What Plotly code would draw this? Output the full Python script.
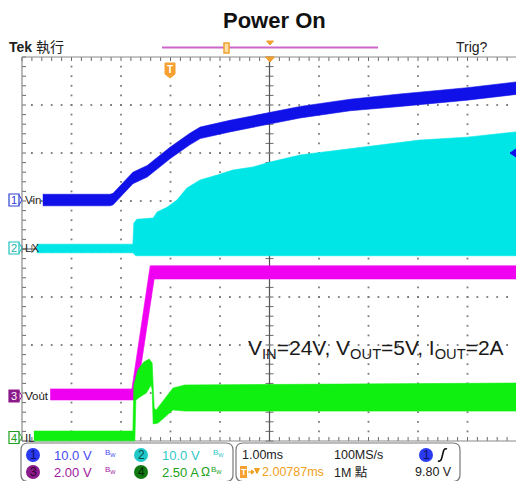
import plotly.graph_objects as go

# ---------------- data ----------------
# time in ms from the left edge of the graticule (1.00 ms/div)
ch_names = ["Vin", "LX", "Vout", "IL"]
ch_scale = [10.0, 10.0, 2.0, 2.5]          # units per division
ch_ground_div = [5.02, 4.02, 0.96, 0.083]  # ground marker position (div from bottom)
ch_colors = ["#1010e8", "#00e6e6", "#f000f0", "#10f010"]

vin_t_up = [0.42, 1.78, 1.84, 2.24, 2.53, 2.99, 3.39, 3.60, 4.20, 5.01, 5.62, 6.63, 7.64, 8.99, 9.98]
vin_v_up = [1.2, 1.2, 1.4, 5.8, 7.2, 11.0, 13.9, 15.2, 16.6, 18.3, 19.5, 21.0, 22.1, 23.4, 24.6]
vin_t_dn = [0.42, 1.78, 1.84, 2.24, 2.53, 2.99, 3.39, 3.60, 4.20, 5.01, 5.62, 6.63, 7.64, 8.99, 9.98]
vin_v_dn = [-1.2, -1.2, -1.0, 3.4, 4.8, 8.6, 11.5, 12.8, 14.2, 15.9, 17.1, 18.6, 19.5, 20.8, 22.0]

lx_t_up = [0.30, 2.24, 2.26, 2.32, 2.65, 2.73, 2.93, 3.13, 3.33, 3.60, 3.94, 4.26, 4.67, 5.01, 5.62, 7.23, 8.04, 8.99, 9.98]
lx_v_up = [0.8, 0.8, 5.2, 6.0, 6.25, 7.5, 8.5, 10.0, 12.5, 14.2, 15.2, 16.25, 16.9, 17.9, 19.4, 21.5, 22.5, 23.1, 24.2]
lx_t_dn = [0.30, 2.24, 2.30, 9.98]
lx_v_dn = [-1.0, -1.0, -1.6, -1.6]

vout_t_up = [0.57, 2.22, 2.59, 9.98]
vout_v_up = [0.25, 0.25, 5.38, 5.38]
vout_t_dn = [0.57, 2.30, 2.67, 9.98]
vout_v_dn = [-0.21, -0.21, 4.83, 4.83]

il_t_up = [0.24, 2.24, 2.26, 2.34, 2.46, 2.57, 2.63, 2.67, 2.71, 3.05, 3.29, 9.98]
il_v_up = [0.31, 0.31, 2.71, 3.49, 3.91, 4.06, 3.85, 1.51, 1.41, 2.55, 2.71, 2.81]
il_t_dn = [0.24, 2.28, 2.30, 2.38, 2.51, 2.61, 2.63, 2.65, 2.75, 3.05, 3.29, 9.98]
il_v_dn = [-0.2, -0.2, 1.93, 2.08, 2.29, 2.71, 2.45, 0.68, 0.73, 1.41, 1.35, 1.35]

ch_t_up = [vin_t_up, lx_t_up, vout_t_up, il_t_up]
ch_v_up = [vin_v_up, lx_v_up, vout_v_up, il_v_up]
ch_t_dn = [vin_t_dn, lx_t_dn, vout_t_dn, il_t_dn]
ch_v_dn = [vin_v_dn, lx_v_dn, vout_v_dn, il_v_dn]

title_text = "Power On"
cond_text = "V<sub>IN</sub>=24V, V<sub>OUT</sub>=5V, I<sub>OUT</sub>=2A"
status_row1_left = [("1", "10.0 V"), ("2", "10.0 V")]
status_row2_left = [("3", "2.00 V"), ("4", "2.50 A")]
timebase = "1.00ms"
samplerate = "100MS/s"
record = "1M 點"
trig_pos = "2.00787ms"
trig_level = "9.80 V"

# ---------------- geometry helpers (pixel -> divisions) ----------------
W, H = 516, 481
X0, DX = 22.0, 49.5     # graticule left edge, px per division
Y0, DY = 441.0, 48.0    # graticule bottom edge, px per division


def fx(p):
    return (p - X0) / DX


def fy(p):
    return (Y0 - p) / DY


XR = [fx(0), fx(W)]
YR = [fy(H), fy(0)]

fig = go.Figure()

# ---------------- channel traces ----------------
for i in range(4):
    xs = ch_t_up[i] + ch_t_dn[i][::-1]
    ys = ch_v_up[i] + ch_v_dn[i][::-1]
    fig.add_trace(go.Scatter(
        x=xs, y=ys, mode="lines", fill="toself",
        fillcolor=ch_colors[i], line=dict(color=ch_colors[i], width=0.6),
        yaxis="y%d" % (i + 2), hoverinfo="skip", showlegend=False))

# ---------------- graticule (drawn over the traces) ----------------
GRID = "#8a8a8a"
xmax = fx(W)
seg_x, seg_y = [], []


def seg(xa, ya, xb, yb):
    seg_x.extend([xa, xb, None])
    seg_y.extend([ya, yb, None])


tl_x = 4.0 / DX
tl_y = 4.0 / DY
for k in range(0, 51):
    x = k * 0.2
    if x <= xmax:
        seg(x, 8, x, 8 - tl_y)          # top edge
        seg(x, 0, x, tl_y)              # bottom edge
        seg(x, 4 - tl_y, x, 4 + tl_y)   # center horizontal
for k in range(0, 41):
    y = k * 0.2
    seg(0, y, tl_x, y)                  # left edge
    seg(5 - tl_x, y, 5 + tl_x, y)       # center vertical

fig.add_trace(go.Scatter(x=seg_x, y=seg_y, mode="lines",
                         line=dict(color="#6a6a6a", width=1),
                         hoverinfo="skip", showlegend=False))

fig.add_trace(go.Scatter(
    x=[0, xmax, None, 0, 0, None, 0, xmax, None],
    y=[8, 8, None, 0, 8, None, 0, 0, None],
    mode="lines", line=dict(color=GRID, width=1.2),
    hoverinfo="skip", showlegend=False))
fig.add_trace(go.Scatter(
    x=[5, 5, None, 0, xmax, None],
    y=[0, 8, None, 4, 4, None],
    mode="lines", line=dict(color="#555555", width=1.2),
    hoverinfo="skip", showlegend=False))

dx_, dy_ = [], []
for m in range(1, 10):
    if m == 5:
        continue
    for k in range(1, 40):
        dx_.append(m)
        dy_.append(k * 0.2)
for m in range(1, 8):
    if m == 4:
        continue
    for k in range(1, 51):
        x = k * 0.2
        if x <= xmax:
            dx_.append(x)
            dy_.append(m)
fig.add_trace(go.Scatter(x=dx_, y=dy_, mode="markers",
                         marker=dict(symbol="square", size=1.8, color="#7a7a7a", line=dict(width=0)),
                         hoverinfo="skip", showlegend=False))

# ---------------- shapes & annotations ----------------
shapes = []
ann = []
SANS = "Liberation Sans, Arial, Noto Sans CJK TC, sans-serif"


def P(px, py):
    return "%.4f,%.4f" % (fx(px), fy(py))


def rrect(x0, y0, x1, y1, r, line_color="#7a7a7a", fill="white", width=1.2):
    path = ("M " + P(x0 + r, y0) + " L " + P(x1 - r, y0) + " Q " + P(x1, y0) + " " + P(x1, y0 + r) +
            " L " + P(x1, y1 - r) + " Q " + P(x1, y1) + " " + P(x1 - r, y1) +
            " L " + P(x0 + r, y1) + " Q " + P(x0, y1) + " " + P(x0, y1 - r) +
            " L " + P(x0, y0 + r) + " Q " + P(x0, y0) + " " + P(x0 + r, y0) + " Z")
    shapes.append(dict(type="path", path=path, xref="x", yref="y",
                       line=dict(color=line_color, width=width), fillcolor=fill, layer="above"))


def poly(pts, fill, line=None, width=1):
    path = "M " + " L ".join(P(a, b) for a, b in pts) + " Z"
    shapes.append(dict(type="path", path=path, xref="x", yref="y",
                       line=dict(color=line or fill, width=width), fillcolor=fill, layer="above"))


def text(px, py, s, size=12, color="#222222", anchor="left", family=SANS, bold=False):
    if bold:
        s = "<b>" + s + "</b>"
    ann.append(dict(x=fx(px), y=fy(py), xref="x", yref="y", text=s, showarrow=False,
                    xanchor=anchor, yanchor="middle",
                    font=dict(family=family, size=size, color=color)))


def circle(cx, cy, r, fill):
    shapes.append(dict(type="circle", xref="x", yref="y",
                       x0=fx(cx - r), x1=fx(cx + r), y0=fy(cy + r), y1=fy(cy - r),
                       fillcolor=fill, line=dict(color=fill, width=0), layer="above"))


# title
text(274, 20, title_text, size=22, color="#111111", anchor="center", bold=True)

# top status line
text(7, 47, "<b>Tek</b> 執行", size=14, color="#222222")
text(454, 47, "Trig?", size=14, color="#222222")
shapes.append(dict(type="line", xref="x", yref="y", x0=fx(162), x1=fx(378), y0=fy(47.5), y1=fy(47.5),
                   line=dict(color="#cc66cc", width=2), layer="above"))
shapes.append(dict(type="rect", xref="x", yref="y", x0=fx(224), x1=fx(229), y0=fy(53), y1=fy(43),
                   line=dict(color="#f0a030", width=1.5), fillcolor="#ffe0a0", layer="above"))
poly([(266.5, 41), (273.5, 41), (270, 45)], "#f0a030")
poly([(265.5, 57), (274.5, 57), (270, 62)], "#f0a030")

# trigger position tag
poly([(165, 63), (175, 63), (175, 74), (170, 78), (165, 74)], "#f5a030")
text(170, 69, "T", size=10, color="white", anchor="center", bold=True)

# trigger level marker (right edge)
poly([(510, 153), (516, 149), (516, 157)], "#1010e8")

# channel ground markers
marker_y = [200, 248, 396, 437.5]
marker_fill = ["white", "white", "#8b1a8b", "white"]
marker_line = ["#3040d0", "#20c0c0", "#8b1a8b", "#20a020"]
marker_txt = ["#3040d0", "#20b0b0", "white", "#20a020"]
for i in range(4):
    y = marker_y[i]
    shapes.append(dict(type="rect", xref="x", yref="y", x0=fx(9), x1=fx(19), y0=fy(y + 6), y1=fy(y - 6),
                       line=dict(color=marker_line[i], width=1.2), fillcolor=marker_fill[i], layer="above"))
    shapes.append(dict(type="path", xref="x", yref="y",
                       path="M " + P(19, y - 5) + " L " + P(22, y) + " L " + P(19, y + 5),
                       line=dict(color=marker_line[i], width=1), layer="above"))
    text(14, y, str(i + 1), size=11, color=marker_txt[i], anchor="center")
    text(22.5, y, ch_names[i], size=11.5, color="#222222")

# conditions text
text(246, 349, cond_text, size=21, color="#1a1a1a")

# bottom status boxes
rrect(21, 443, 233, 481.5, 7)
rrect(236, 443, 460, 481.5, 7)

badge_fill = [["#2a3af0", "#20c8c8"], ["#8b1a8b", "#137a13"]]
badge_txt = [["#101060", "#104848"], ["#300030", "#002800"]]
val_color = [["#4a4af0", "#30c8c8"], ["#a020a0", "#20a020"]]
rows = [status_row1_left, status_row2_left]
row_y = [455, 472]
col_x = [33, 141]
for r in range(2):
    for c in range(2):
        num, val = rows[r][c]
        cx = col_x[c]
        circle(cx, row_y[r], 7, badge_fill[r][c])
        text(cx, row_y[r], num, size=12, color=badge_txt[r][c], anchor="center")
        text(cx + 19, row_y[r], val, size=13, color=val_color[r][c])
        if r == 1 and c == 1:
            text(cx + 58, row_y[r], "Ω", size=12, color=val_color[r][c])
            text(cx + 68, row_y[r] - 2, "B<sub>W</sub>", size=8, color=val_color[r][c])
        else:
            text(cx + 70, row_y[r] - 2, "B<sub>W</sub>", size=8, color=val_color[r][c])

text(240, 455, timebase, size=12.5, color="#222222")
text(332, 455, samplerate, size=12.5, color="#222222")
circle(426, 455, 7, "#2a3af0")
text(426, 455, "1", size=12, color="#101060", anchor="center")
shapes.append(dict(type="path", xref="x", yref="y",
                   path="M " + P(438, 461) + " Q " + P(441, 462) + " " + P(442, 457) +
                   " L " + P(443.5, 451) + " Q " + P(444.5, 448) + " " + P(447, 449),
                   line=dict(color="#111111", width=1.6), layer="above"))

# trigger position readout: [T] -> v 2.00787ms
ORANGE = "#f0a020"
shapes.append(dict(type="rect", xref="x", yref="y", x0=fx(240), x1=fx(247), y0=fy(478), y1=fy(466),
                   line=dict(color="#f5a030", width=0), fillcolor="#f5a030", layer="above"))
text(243.5, 472, "T", size=9, color="white", anchor="center", bold=True)
shapes.append(dict(type="line", xref="x", yref="y", x0=fx(248), x1=fx(252), y0=fy(472), y1=fy(472),
                   line=dict(color=ORANGE, width=1.2), layer="above"))
poly([(251.5, 470), (254, 472), (251.5, 474)], ORANGE)
poly([(254.5, 468.5), (259.5, 468.5), (257, 473.5)], ORANGE)
text(259.5, 472, trig_pos, size=12.5, color=ORANGE)
text(332, 472, record, size=12.5, color="#222222")
text(454, 472, trig_level, size=12.5, color="#222222", anchor="right")

# ---------------- layout ----------------
layout = dict(
    width=W, height=H, margin=dict(l=0, r=0, t=0, b=0, pad=0),
    paper_bgcolor="white", plot_bgcolor="white", showlegend=False,
    xaxis=dict(range=XR, visible=False, fixedrange=True),
    yaxis=dict(range=YR, visible=False, fixedrange=True),
    shapes=shapes, annotations=ann,
)
for i in range(4):
    s, g = ch_scale[i], ch_ground_div[i]
    layout["yaxis%d" % (i + 2)] = dict(range=[(YR[0] - g) * s, (YR[1] - g) * s],
                                       overlaying="y", visible=False, fixedrange=True)
fig.update_layout(**layout)

fig.write_html("out.html")
